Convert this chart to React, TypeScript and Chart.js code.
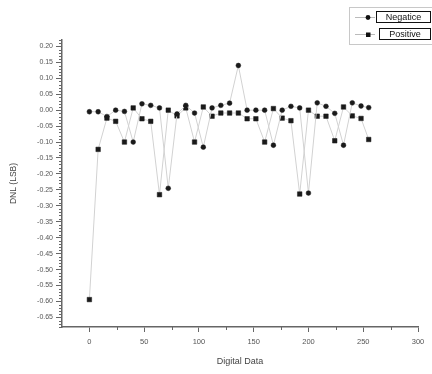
import React, { useEffect, useRef } from "react";
import { Chart, registerables } from "chart.js";

Chart.register(...registerables);

const digitalCodes = [0, 8, 16, 24, 32, 40, 48, 56, 64, 72, 80, 88, 96, 104, 112, 120, 128, 136, 144, 152, 160, 168, 176, 184, 192, 200, 208, 216, 224, 232, 240, 248, 255];
const negaticeDnl = [-0.005, -0.005, -0.020, 0.000, -0.004, -0.100, 0.020, 0.015, 0.007, -0.245, -0.012, 0.015, -0.009, -0.116, 0.007, 0.015, 0.022, 0.140, 0.000, 0.000, 0.000, -0.110, 0.000, 0.012, 0.007, -0.260, 0.023, 0.012, -0.010, -0.110, 0.023, 0.013, 0.008];
const positiveDnl = [-0.594, -0.123, -0.025, -0.035, -0.100, 0.007, -0.027, -0.035, -0.265, 0.000, -0.018, 0.007, -0.100, 0.010, -0.019, -0.009, -0.009, -0.009, -0.027, -0.027, -0.100, 0.005, -0.025, -0.033, -0.263, 0.000, -0.019, -0.019, -0.096, 0.010, -0.018, -0.026, -0.092];
const seriesNames = ["Negatice", "Positive"];
const xTicks = [0, 50, 100, 150, 200, 250, 300];
const xMinorTicks = [25, 75, 125, 175, 225, 275];
const yTicks = [0.2, 0.15, 0.1, 0.05, 0, -0.05, -0.1, -0.15, -0.2, -0.25, -0.3, -0.35, -0.4, -0.45, -0.5, -0.55, -0.6, -0.65];

const AXIS_COLOR = "#666";
const FONT = "'Liberation Sans', Arial, sans-serif";

const minorTicksPlugin = {
  id: "minorTicks",
  afterDraw(chart: any) {
    const ctx = chart.ctx;
    const xs = chart.scales.x;
    const ys = chart.scales.y;
    const area = chart.chartArea;
    ctx.save();
    ctx.strokeStyle = AXIS_COLOR;
    ctx.lineWidth = 1;
    ctx.beginPath();
    for (let i = -68; i <= 22; i++) {
      const v = i / 100;
      if (i % 5 === 0) continue;
      const py = Math.round(ys.getPixelForValue(v)) + 0.5;
      ctx.moveTo(area.left - 3, py);
      ctx.lineTo(area.left, py);
    }
    for (const v of xMinorTicks) {
      const px = Math.round(xs.getPixelForValue(v)) + 0.5;
      ctx.moveTo(px, area.bottom);
      ctx.lineTo(px, area.bottom + 3);
    }
    ctx.stroke();
    ctx.restore();
  },
};

const boxedLegendPlugin = {
  id: "boxedLegend",
  afterDraw(chart: any) {
    const ctx = chart.ctx;
    ctx.save();
    ctx.strokeStyle = "#c8c8c8";
    ctx.lineWidth = 1;
    ctx.strokeRect(349.5, 7.5, 90, 37);
    ctx.font = `9px ${FONT}`;
    ctx.textBaseline = "middle";
    chart.data.datasets.forEach((ds: any, i: number) => {
      const cy = 17 + i * 17;
      ctx.strokeStyle = "#bbb";
      ctx.beginPath();
      ctx.moveTo(355, cy + 0.5);
      ctx.lineTo(375, cy + 0.5);
      ctx.stroke();
      ctx.fillStyle = "#111";
      if (ds.pointStyle === "circle") {
        ctx.beginPath();
        ctx.arc(368, cy + 0.5, 2.4, 0, Math.PI * 2);
        ctx.fill();
      } else {
        ctx.fillRect(366, cy - 1.5, 4.5, 4.5);
      }
      const bx = i === 0 ? 376.5 : 379.5;
      ctx.strokeStyle = "#111";
      ctx.strokeRect(bx, cy - 5.5, 430.5 - bx, 11);
      ctx.fillStyle = "#111";
      ctx.textAlign = "center";
      ctx.fillText(ds.label, (bx + 430.5) / 2, cy + 0.5);
    });
    ctx.restore();
  },
};

export default function App() {
  const ref = useRef<HTMLCanvasElement | null>(null);
  useEffect(() => {
    if (!ref.current) return;
    const mk = (vals: number[]) => digitalCodes.map((x, i) => ({ x, y: vals[i] }));
    const chart = new Chart(ref.current, {
      type: "line",
      data: {
        datasets: [
          {
            label: seriesNames[0],
            data: mk(negaticeDnl),
            borderColor: "#d2d2d2",
            borderWidth: 1,
            pointStyle: "circle",
            pointRadius: 2.4,
            pointBackgroundColor: "#1a1a1a",
            pointBorderColor: "#1a1a1a",
            pointBorderWidth: 0.5,
          },
          {
            label: seriesNames[1],
            data: mk(positiveDnl),
            borderColor: "#d2d2d2",
            borderWidth: 1,
            pointStyle: "rect",
            pointRadius: 3.2,
            pointBackgroundColor: "#1a1a1a",
            pointBorderColor: "#1a1a1a",
            pointBorderWidth: 0.5,
          },
        ],
      },
      options: {
        responsive: false,
        animation: false,
        layout: { padding: { top: 40, right: 14, left: 0, bottom: 0 } },
        plugins: { legend: { display: false }, tooltip: { enabled: false } },
        scales: {
          x: {
            type: "linear",
            min: -25,
            max: 300,
            afterFit: (s: any) => { s.height = 47; },
            afterBuildTicks: (s: any) => { s.ticks = xTicks.map((v) => ({ value: v })); },
            grid: { drawOnChartArea: false, tickLength: 5, tickColor: AXIS_COLOR, tickWidth: 1 },
            border: { color: AXIS_COLOR, width: 1.5 },
            ticks: { color: "#555", font: { family: FONT, size: 7.5 }, padding: 5, maxRotation: 0, autoSkip: false },
            title: { display: true, text: "Digital Data", color: "#444", font: { family: FONT, size: 9 }, padding: { top: 4, bottom: 7 } },
          },
          y: {
            type: "linear",
            min: -0.68,
            max: 0.22,
            afterFit: (s: any) => { s.width = 62; },
            afterBuildTicks: (s: any) => { s.ticks = yTicks.map((v) => ({ value: v })); },
            grid: { drawOnChartArea: false, tickLength: 6, tickColor: AXIS_COLOR, tickWidth: 1 },
            border: { color: AXIS_COLOR, width: 1.5 },
            ticks: {
              color: "#555",
              font: { family: FONT, size: 7 },
              padding: 3,
              autoSkip: false,
              callback: (v: any) => Number(v).toFixed(2),
            },
            title: { display: true, text: "DNL (LSB)", color: "#444", font: { family: FONT, size: 8.5 }, padding: { top: 9, bottom: 0 } },
          },
        },
      },
      plugins: [minorTicksPlugin, boxedLegendPlugin],
    });
    return () => chart.destroy();
  }, []);
  return (
    <div style={{ position: "absolute", left: 0, top: 0, width: 432, height: 374, background: "#fff" }}>
      <canvas ref={ref} width={432} height={374} />
    </div>
  );
}
